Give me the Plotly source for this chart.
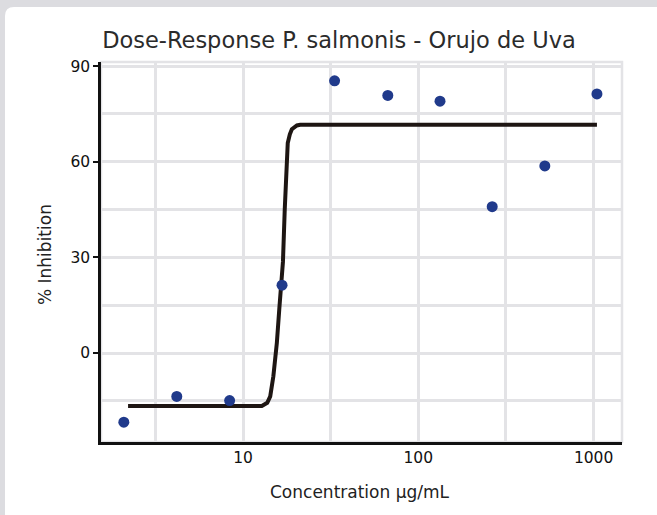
import plotly.graph_objects as go

# ---- data ----
conc = [2.09, 4.19, 8.39, 16.7, 33.3, 67.0, 133, 264, 527, 1045]
inhibition = [-21.7, -13.6, -14.9, 21.3, 85.4, 80.8, 79.0, 45.9, 58.7, 81.3]

fit_conc = [2.21, 12.8, 13.75, 14.3, 14.9, 15.6, 16.1, 16.5, 16.9, 17.3, 17.7, 18.0, 18.5, 19.0, 20.3, 21.2, 1045]
fit_inhib = [-16.6, -16.6, -15.6, -13.6, -7.3, 3.2, 13.6, 21.4, 28.6, 44.9, 60.5, 65.9, 68.6, 70.2, 71.4, 71.6, 71.6]

x_tickvals = [10, 100, 1000]
x_ticktext = ["10", "100", "1000"]
x_minor = [3.162, 31.62, 316.2]

W, H = 657, 515
ML, MR, MT, MB = 101, 35, 62, 73
PW, PH = W - ML - MR, H - MT - MB


def fx(px):
    return (px - ML) / PW


def fy(py):
    return (H - MB - py) / PH


GRID = "#e3e3e6"
FONT = "DejaVu Sans, Verdana, sans-serif"

fig = go.Figure()
fig.add_trace(go.Scatter(
    x=fit_conc, y=fit_inhib, mode="lines",
    line=dict(color="#1e1613", width=4),
    hoverinfo="skip", showlegend=False,
))
fig.add_trace(go.Scatter(
    x=conc, y=inhibition, mode="markers",
    marker=dict(color="#203a8b", size=11),
    showlegend=False,
))

# card background with rounded top-left corner
r = 9
card = (f"M {fx(5)},{fy(7 + r)} Q {fx(5)},{fy(7)} {fx(5 + r)},{fy(7)} "
        f"L {fx(700)},{fy(7)} L {fx(700)},{fy(560)} L {fx(5)},{fy(560)} Z")

fig.update_layout(
    width=W, height=H,
    margin=dict(l=ML, r=MR, t=MT, b=MB),
    paper_bgcolor="#dcdce0",
    plot_bgcolor="rgba(0,0,0,0)",
    font=dict(family=FONT, color="#111111"),
    title=dict(
        text="Dose-Response P. salmonis - Orujo de Uva",
        x=339 / W, xanchor="center", xref="container",
        y=1 - 40 / H, yanchor="middle", yref="container",
        font=dict(size=22.5, color="#2b2b2b", family=FONT),
    ),
    shapes=[
        dict(type="path", path=card, xref="paper", yref="paper",
             fillcolor="white", line=dict(width=0), layer="below"),
        dict(type="rect", xref="paper", yref="paper", x0=0, y0=0, x1=1, y1=1,
             line=dict(color=GRID, width=2.5), layer="below"),
    ],
    annotations=[
        dict(text="Concentration µg/mL", xref="paper", yref="paper",
             x=fx(360), y=fy(492), xanchor="center", yanchor="middle",
             showarrow=False, font=dict(size=17, color="#222222", family=FONT)),
        dict(text="% Inhibition", xref="paper", yref="paper",
             x=fx(45), y=fy(255), xanchor="center", yanchor="middle",
             textangle=-90, showarrow=False, font=dict(size=17, color="#222222", family=FONT)),
    ],
)

fig.update_xaxes(
    type="log", range=[0.190, 3.162],
    tickvals=x_tickvals, ticktext=x_ticktext,
    ticks="", showgrid=True, gridcolor=GRID, gridwidth=2.5,
    minor=dict(tickvals=x_minor, showgrid=True, gridcolor=GRID, gridwidth=2.5, ticks=""),
    showline=True, linecolor="#111111", linewidth=2.5,
    tickfont=dict(size=15.5, color="#111111", family=FONT),
    zeroline=False,
)
fig.update_yaxes(
    range=[-27.9, 91.3],
    tick0=0, dtick=30,
    ticks="outside", ticklen=5, tickwidth=2, tickcolor="#111111",
    showgrid=True, gridcolor=GRID, gridwidth=2.5,
    minor=dict(tick0=0, dtick=15, showgrid=True, gridcolor=GRID, gridwidth=2.5, ticks=""),
    showline=True, linecolor="#111111", linewidth=2.5,
    tickfont=dict(size=15.5, color="#111111", family=FONT),
    zeroline=False,
)

fig.write_html(
    "out.html",
    config={"displayModeBar": False},
    post_script="document.body.style.margin='0px';document.body.style.overflow='hidden';",
)
